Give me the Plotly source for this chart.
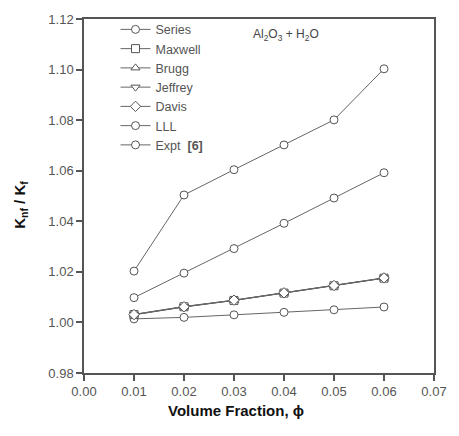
import plotly.graph_objects as go

phi = [0.01, 0.02, 0.03, 0.04, 0.05, 0.06]
series_vals = [1.0014, 1.0020, 1.0030, 1.0040, 1.0050, 1.0061]
maxwell_vals = [1.0031, 1.0062, 1.0087, 1.0116, 1.0145, 1.0175]
brugg_vals = [1.0030, 1.0061, 1.0087, 1.0116, 1.0145, 1.0175]
jeffrey_vals = [1.0032, 1.0063, 1.0088, 1.0117, 1.0146, 1.0176]
davis_vals = [1.0031, 1.0062, 1.0088, 1.0117, 1.0146, 1.0176]
lll_vals = [1.0098, 1.0195, 1.0292, 1.0392, 1.0492, 1.0592]
expt_vals = [1.0203, 1.0504, 1.0604, 1.0702, 1.0801, 1.1003]

x_ticks = [0.00, 0.01, 0.02, 0.03, 0.04, 0.05, 0.06, 0.07]
y_ticks = [0.98, 1.00, 1.02, 1.04, 1.06, 1.08, 1.10, 1.12]

names = ["Series", "Maxwell", "Brugg", "Jeffrey", "Davis", "LLL", "Expt  <b>[6]</b>"]
symbols = ["circle", "square", "triangle-up", "triangle-down", "diamond", "circle", "circle"]
data = [series_vals, maxwell_vals, brugg_vals, jeffrey_vals, davis_vals, lll_vals, expt_vals]

LINE = "#555555"
FONT = "Liberation Sans, Arial, sans-serif"

fig = go.Figure()
for name, sym, vals in zip(names, symbols, data):
    fig.add_trace(go.Scatter(
        x=phi, y=vals, name=name, mode="lines+markers",
        line=dict(color="#666666", width=1),
        marker=dict(symbol=sym, size=8, color="white",
                    line=dict(color="#555555", width=1)),
    ))

fig.update_layout(
    width=459, height=436,
    margin=dict(l=84, r=13, t=15, b=63),
    paper_bgcolor="white", plot_bgcolor="white",
    font=dict(family=FONT, size=12, color="#444444"),
    showlegend=True,
    legend=dict(x=0.09, y=1.012, xanchor="left", yanchor="top",
                bgcolor="rgba(0,0,0,0)", font=dict(size=12.5, color="#555555"),
                tracegroupgap=0, itemwidth=30),
    xaxis=dict(range=[0, 0.07], tickvals=x_ticks,
               ticktext=[f"{v:.2f}" for v in x_ticks],
               showgrid=False, zeroline=False,
               showline=True, linecolor=LINE, linewidth=1.5, mirror=True,
               ticks="outside", ticklen=6, tickcolor=LINE, tickwidth=1.5,
               tickfont=dict(size=13, color="#555555")),
    yaxis=dict(range=[0.98, 1.12], tickvals=y_ticks,
               ticktext=[f"{v:.2f}" for v in y_ticks],
               showgrid=False, zeroline=False,
               showline=True, linecolor=LINE, linewidth=1.5, mirror=True,
               ticks="outside", ticklen=6, tickcolor=LINE, tickwidth=1.5,
               tickfont=dict(size=13, color="#555555")),
)

fig.add_annotation(text="<b>Volume Fraction, ϕ</b>", xref="paper", yref="paper",
                   x=0.434, y=-0.105, xanchor="center", yanchor="middle",
                   showarrow=False, font=dict(size=15, color="#111111"))
fig.add_annotation(text="<b>K<sub>nf</sub> / K<sub>f</sub></b>", xref="paper", yref="paper",
                   x=-0.18, y=0.475, xanchor="center", yanchor="middle", textangle=-90,
                   showarrow=False, font=dict(size=15, color="#111111"))
fig.add_annotation(text="Al<sub>2</sub>O<sub>3</sub> + H<sub>2</sub>O", xref="paper", yref="paper",
                   x=0.477, y=0.955, xanchor="left", yanchor="middle",
                   showarrow=False, font=dict(size=12, color="#444444"))

fig.write_html("out.html")
